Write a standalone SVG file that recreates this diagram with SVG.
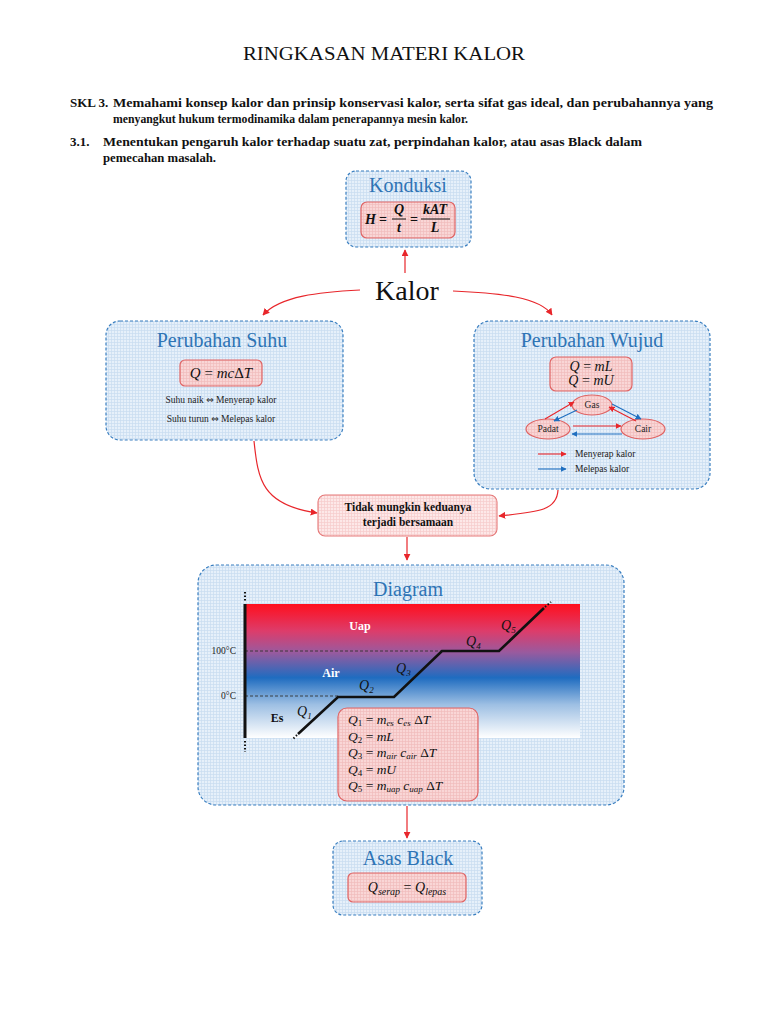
<svg xmlns="http://www.w3.org/2000/svg" width="768" height="1024" viewBox="0 0 768 1024">
<defs>
  <pattern id="gridB" width="3" height="3" patternUnits="userSpaceOnUse">
    <rect width="3" height="3" fill="#e6f0fa"/>
    <path d="M0,0.5H3M0.5,0V3" stroke="#c8dcf0" stroke-width="0.7"/>
  </pattern>
  <pattern id="gridR" width="3" height="3" patternUnits="userSpaceOnUse">
    <rect width="3" height="3" fill="#f9d6d6"/>
    <path d="M0,0.5H3M0.5,0V3" stroke="#f1bcbc" stroke-width="0.7"/>
  </pattern>
  <pattern id="gridR2" width="3" height="3" patternUnits="userSpaceOnUse">
    <rect width="3" height="3" fill="#fde8e8"/>
    <path d="M0,0.5H3M0.5,0V3" stroke="#f6cccc" stroke-width="0.7"/>
  </pattern>
  <linearGradient id="heat" x1="0" y1="0" x2="0" y2="1">
    <stop offset="0" stop-color="#ff0f1e"/>
    <stop offset="0.2" stop-color="#dd3c6a"/>
    <stop offset="0.36" stop-color="#9a5a9e"/>
    <stop offset="0.55" stop-color="#1f6cc0"/>
    <stop offset="0.75" stop-color="#9dbfe3"/>
    <stop offset="1" stop-color="#ffffff"/>
  </linearGradient>
  <marker id="arR" viewBox="0 0 10 10" refX="9" refY="5" markerWidth="7" markerHeight="7" markerUnits="userSpaceOnUse" orient="auto">
    <path d="M0,0L10,5L0,10z" fill="#e8262b"/>
  </marker>
  <marker id="arRs" viewBox="0 0 10 10" refX="9" refY="5" markerWidth="6" markerHeight="6" markerUnits="userSpaceOnUse" orient="auto">
    <path d="M0,0L10,5L0,10z" fill="#e8262b"/>
  </marker>
  <marker id="arBs" viewBox="0 0 10 10" refX="9" refY="5" markerWidth="6" markerHeight="6" markerUnits="userSpaceOnUse" orient="auto">
    <path d="M0,0L10,5L0,10z" fill="#1f6fc0"/>
  </marker>
  <style>
    .box{fill:url(#gridB);stroke:#3a7fc0;stroke-width:1.2;stroke-dasharray:3 2}
    .fbox{fill:url(#gridR);stroke:#e06464;stroke-width:1.2}
    .ttl{font-family:"Liberation Serif","DejaVu Serif",serif;fill:#2e74b5;text-anchor:middle}
    .body{font-family:"Liberation Serif","DejaVu Serif",serif;fill:#111}
    .math{font-family:"Liberation Serif","DejaVu Serif",serif;font-style:italic;fill:#111}
    .con{fill:none;stroke:#e8262b;stroke-width:1.2}
    .sm{font-family:"Liberation Serif","DejaVu Serif",serif;font-size:9.5px;fill:#222}
    .iff{font-family:"DejaVu Sans",sans-serif;font-size:9px}
  </style>
</defs>
<rect width="768" height="1024" fill="#ffffff"/>

<g id="header">
  <text x="384" y="60" text-anchor="middle" font-family="Liberation Serif, DejaVu Serif, serif" font-size="18" textLength="282" lengthAdjust="spacingAndGlyphs" fill="#111">RINGKASAN MATERI KALOR</text>
  <g class="body" font-weight="bold" font-size="13">
    <text x="70" y="107">SKL 3.</text>
    <text x="113" y="107" textLength="600" lengthAdjust="spacingAndGlyphs">Memahami konsep kalor  dan prinsip konservasi kalor, serta  sifat gas ideal, dan perubahannya yang</text>
    <text x="113" y="123" textLength="355" lengthAdjust="spacingAndGlyphs">menyangkut hukum termodinamika dalam penerapannya mesin kalor.</text>
    <text x="70" y="146">3.1.</text>
    <text x="103" y="146" textLength="539" lengthAdjust="spacingAndGlyphs">Menentukan pengaruh kalor terhadap suatu zat, perpindahan kalor, atau asas Black dalam</text>
    <text x="103" y="162" textLength="113" lengthAdjust="spacingAndGlyphs">pemecahan masalah.</text>
  </g>
</g>

<g id="connectors">
  <path class="con" d="M405,273 V250" marker-end="url(#arR)"/>
  <path class="con" d="M360,290 C320,292 280,296 263,315" marker-end="url(#arR)"/>
  <path class="con" d="M453,291 C500,293 540,297 552,315" marker-end="url(#arR)"/>
  <path class="con" d="M254,441 C258,480 262,505 317,513" marker-end="url(#arR)"/>
  <path class="con" d="M558,490 C557,510 540,512 499,516" marker-end="url(#arR)"/>
  <path class="con" d="M407,537 V560" marker-end="url(#arR)"/>
  <path class="con" d="M407,806 V838" marker-end="url(#arR)"/>
</g>

<g id="kalor">
  <text x="407" y="300" text-anchor="middle" font-family="Liberation Serif, DejaVu Serif, serif" font-size="28" fill="#111">Kalor</text>
</g>

<g id="konduksi">
  <rect class="box" x="346" y="171" width="125" height="76" rx="10"/>
  <text class="ttl" x="408" y="192" font-size="20">Konduksi</text>
  <rect class="fbox" x="361" y="202" width="94" height="36" rx="6"/>
  <g class="math" font-weight="bold" font-size="14">
    <text x="365" y="224">H</text>
    <text x="379" y="224" font-style="normal">=</text>
    <text x="399" y="214" text-anchor="middle">Q</text>
    <text x="399" y="232" text-anchor="middle">t</text>
    <text x="410" y="224" font-style="normal">=</text>
    <text x="435" y="214" text-anchor="middle">kAT</text>
    <text x="435" y="232" text-anchor="middle">L</text>
  </g>
  <path d="M392,219H406M421,219H450" stroke="#111" stroke-width="1"/>
</g>

<g id="suhu">
  <rect class="box" x="106" y="321" width="237" height="119" rx="14"/>
  <text class="ttl" x="222" y="347" font-size="20">Perubahan Suhu</text>
  <rect class="fbox" x="180" y="360" width="82" height="26" rx="5"/>
  <text class="math" x="221" y="378" text-anchor="middle" font-size="15">Q <tspan font-style="normal">=</tspan> mc<tspan font-style="normal">Δ</tspan>T</text>
  <text class="sm" x="221" y="403" text-anchor="middle">Suhu naik <tspan class="iff">⇔</tspan> Menyerap kalor</text>
  <text class="sm" x="221" y="422" text-anchor="middle">Suhu turun <tspan class="iff">⇔</tspan> Melepas kalor</text>
</g>

<g id="wujud">
  <rect class="box" x="474" y="321" width="236" height="168" rx="16"/>
  <text class="ttl" x="592" y="347" font-size="20">Perubahan Wujud</text>
  <rect class="fbox" x="550" y="357" width="82" height="34" rx="6"/>
  <text class="math" x="591" y="371" text-anchor="middle" font-size="14">Q <tspan font-style="normal">=</tspan> mL</text>
  <text class="math" x="591" y="385" text-anchor="middle" font-size="14">Q <tspan font-style="normal">=</tspan> mU</text>
  <ellipse class="fbox" cx="592" cy="405" rx="20" ry="10"/>
  <ellipse class="fbox" cx="548" cy="429" rx="22" ry="10"/>
  <ellipse class="fbox" cx="643" cy="429" rx="22" ry="10"/>
  <text class="sm" x="592" y="408" text-anchor="middle" font-size="9">Gas</text>
  <text class="sm" x="548" y="432" text-anchor="middle" font-size="9">Padat</text>
  <text class="sm" x="643" y="432" text-anchor="middle" font-size="9">Cair</text>
  <g stroke-width="1.1" fill="none">
    <path d="M545,419 L574,402" stroke="#e8262b" marker-end="url(#arRs)"/>
    <path d="M577,410 L554,421" stroke="#1f6fc0" marker-end="url(#arBs)"/>
    <path d="M612,404 L641,419" stroke="#1f6fc0" marker-end="url(#arBs)"/>
    <path d="M636,421 L609,407" stroke="#e8262b" marker-end="url(#arRs)"/>
    <path d="M573,426 H621" stroke="#e8262b" marker-end="url(#arRs)"/>
    <path d="M622,434 H572" stroke="#1f6fc0" marker-end="url(#arBs)"/>
    <path d="M538,454 H566" stroke="#e8262b" marker-end="url(#arRs)"/>
    <path d="M538,469 H566" stroke="#1f6fc0" marker-end="url(#arBs)"/>
  </g>
  <text class="sm" x="575" y="457">Menyerap kalor</text>
  <text class="sm" x="575" y="472">Melepas kalor</text>
</g>

<g id="tidak">
  <rect x="318" y="495" width="179" height="41" rx="7" fill="url(#gridR2)" stroke="#e57878" stroke-width="1.1"/>
  <text class="body" x="408" y="511" text-anchor="middle" font-weight="bold" font-size="11.5">Tidak mungkin keduanya</text>
  <text class="body" x="408" y="526" text-anchor="middle" font-weight="bold" font-size="11.5">terjadi bersamaan</text>
</g>

<g id="diagram">
  <rect class="box" x="198" y="565" width="426" height="240" rx="18"/>
  <text class="ttl" x="408" y="596" font-size="20">Diagram</text>
  <rect x="245" y="604" width="335" height="134" fill="url(#heat)"/>
  <path d="M245,651 H443 M245,696 H338" stroke="#333" stroke-width="0.9" stroke-dasharray="3 2"/>
  <path d="M245,604 V738" stroke="#111" stroke-width="3"/>
  <path d="M245,592 V602 M245,741 V752" stroke="#111" stroke-width="2" stroke-dasharray="1.5 2"/>
  <path d="M298,734 L338,697 H394 L442,651 H499 L544,608" fill="none" stroke="#111" stroke-width="2.6"/>
  <path d="M297,735 L292,740 M545,607 L551,602" stroke="#111" stroke-width="2" stroke-dasharray="1.5 2"/>
  <text class="sm" x="236" y="654" text-anchor="end" font-family="Liberation Sans, Arial, sans-serif" font-size="9">100°C</text>
  <text class="sm" x="236" y="699" text-anchor="end" font-family="Liberation Sans, Arial, sans-serif" font-size="9">0°C</text>
  <text class="body" x="360" y="630" text-anchor="middle" font-weight="bold" font-size="12" style="fill:#fff">Uap</text>
  <text class="body" x="331" y="677" text-anchor="middle" font-weight="bold" font-size="12" style="fill:#fff">Air</text>
  <text class="body" x="277" y="722" text-anchor="middle" font-weight="bold" font-size="12">Es</text>
  <g class="math" font-size="14">
    <text x="297" y="716">Q<tspan font-size="9" dy="3">1</tspan></text>
    <text x="359" y="690">Q<tspan font-size="9" dy="3">2</tspan></text>
    <text x="396" y="673">Q<tspan font-size="9" dy="3">3</tspan></text>
    <text x="466" y="646">Q<tspan font-size="9" dy="3">4</tspan></text>
    <text x="501" y="630">Q<tspan font-size="9" dy="3">5</tspan></text>
  </g>
  <rect class="fbox" x="338" y="708" width="140" height="93" rx="9"/>
  <g class="math" font-size="13.5">
    <text x="348" y="724">Q<tspan font-size="9" dy="2" font-style="normal">1</tspan><tspan dy="-2" font-style="normal"> = </tspan>m<tspan font-size="9" dy="2">es</tspan><tspan dy="-2"> c</tspan><tspan font-size="9" dy="2">es</tspan><tspan dy="-2" font-style="normal"> Δ</tspan>T</text>
    <text x="348" y="740.5">Q<tspan font-size="9" dy="2" font-style="normal">2</tspan><tspan dy="-2" font-style="normal"> = </tspan>mL</text>
    <text x="348" y="757">Q<tspan font-size="9" dy="2" font-style="normal">3</tspan><tspan dy="-2" font-style="normal"> = </tspan>m<tspan font-size="9" dy="2">air</tspan><tspan dy="-2"> c</tspan><tspan font-size="9" dy="2">air</tspan><tspan dy="-2" font-style="normal"> Δ</tspan>T</text>
    <text x="348" y="773.5">Q<tspan font-size="9" dy="2" font-style="normal">4</tspan><tspan dy="-2" font-style="normal"> = </tspan>mU</text>
    <text x="348" y="790">Q<tspan font-size="9" dy="2" font-style="normal">5</tspan><tspan dy="-2" font-style="normal"> = </tspan>m<tspan font-size="9" dy="2">uap</tspan><tspan dy="-2"> c</tspan><tspan font-size="9" dy="2">uap</tspan><tspan dy="-2" font-style="normal"> Δ</tspan>T</text>
  </g>
</g>

<g id="asasblack">
  <rect class="box" x="333" y="841" width="149" height="74" rx="10"/>
  <text class="ttl" x="408" y="865" font-size="20">Asas Black</text>
  <rect class="fbox" x="348" y="873" width="118" height="29" rx="5"/>
  <text class="math" x="407" y="892" text-anchor="middle" font-size="14">Q<tspan font-size="10" dy="3">serap</tspan><tspan dy="-3" font-style="normal"> = </tspan>Q<tspan font-size="10" dy="3">lepas</tspan></text>
</g>
</svg>
